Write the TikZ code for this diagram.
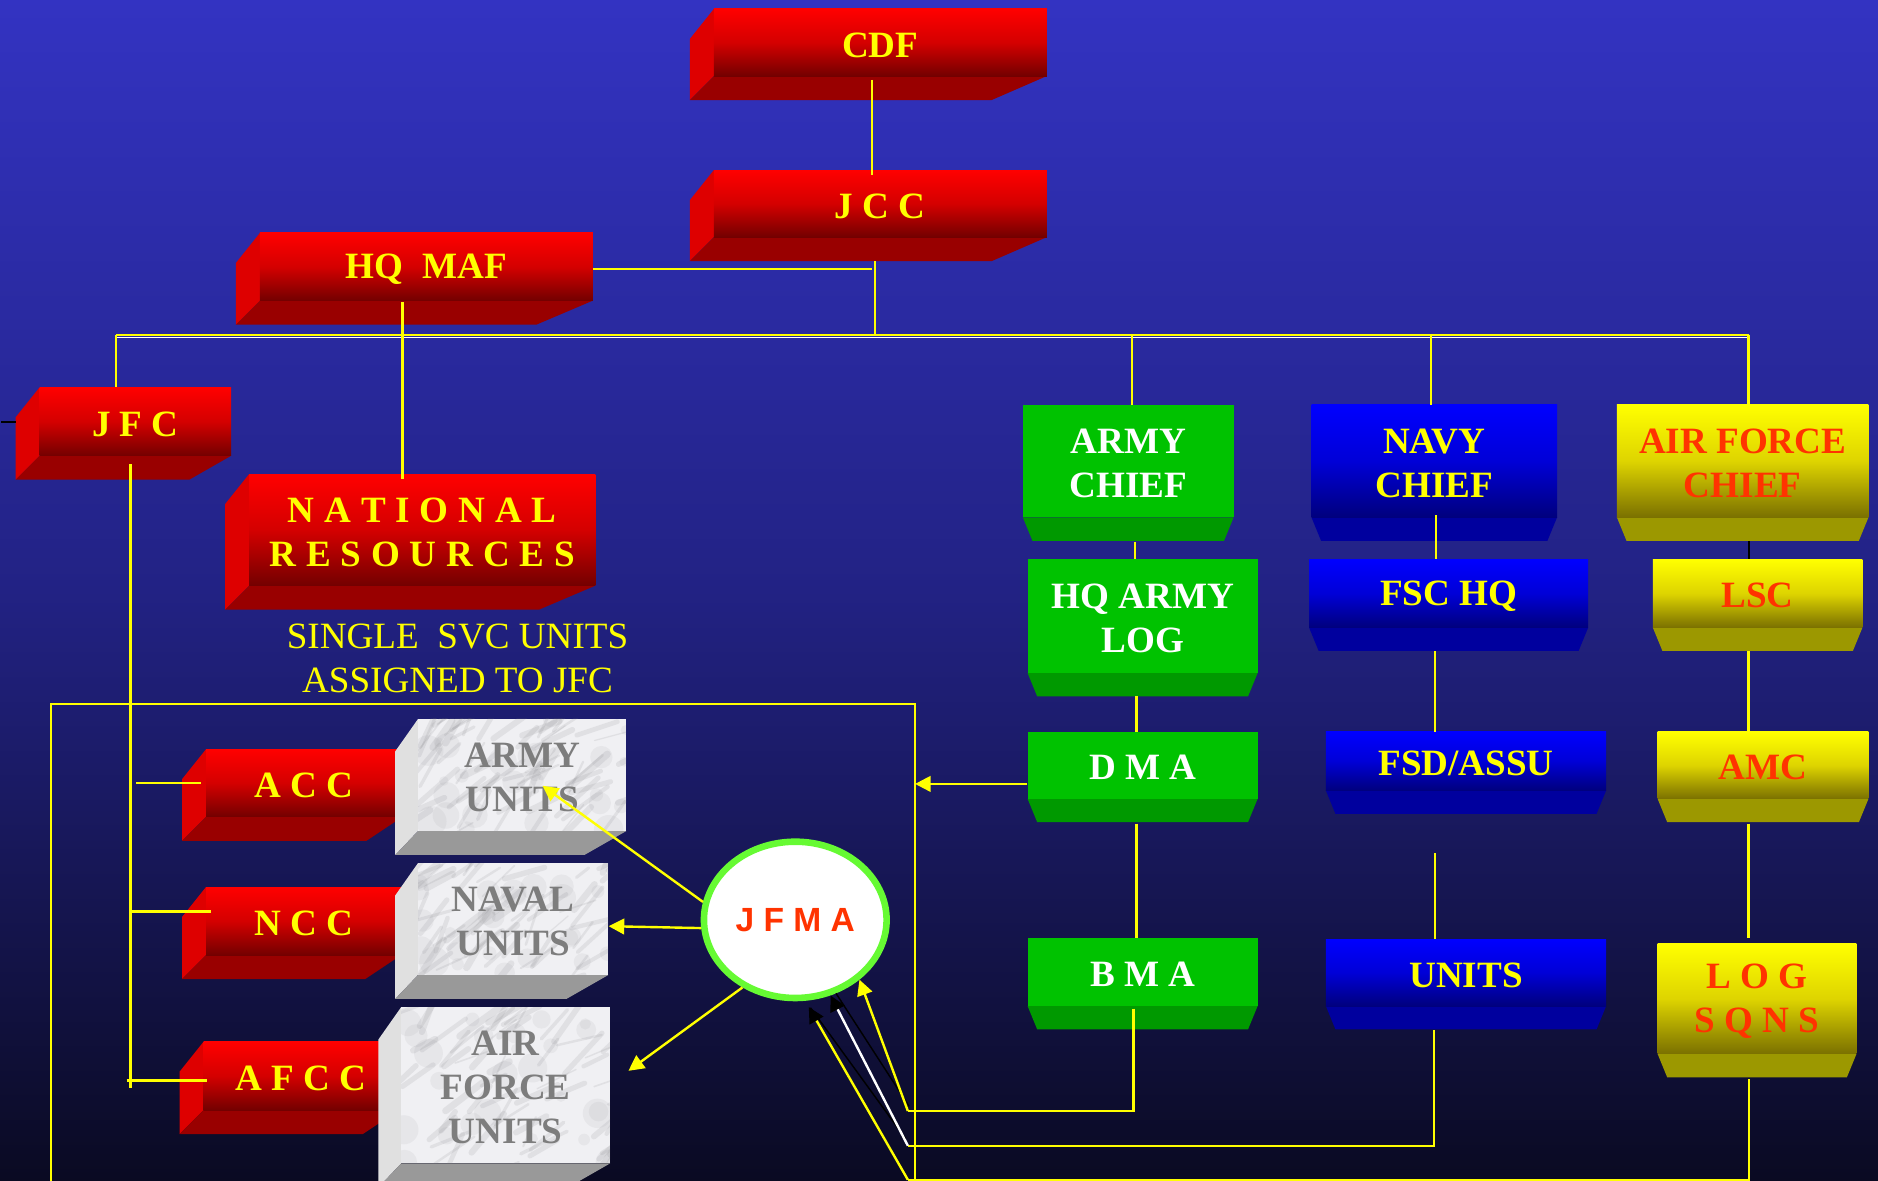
\documentclass[tikz,border=0pt]{standalone}
\usepackage{fontspec}
\setmainfont{Liberation Serif}
\newfontfamily\jfmafont{Liberation Sans}
\usetikzlibrary{shapes.geometric,arrows.meta}
\definecolor{bgtop}{RGB}{51,51,194}
\definecolor{bgmid}{RGB}{34,34,132}
\definecolor{bgbot}{RGB}{10,10,34}
\definecolor{ylw}{RGB}{255,255,0}
\definecolor{rtop}{RGB}{255,0,0}
\definecolor{rmid}{RGB}{212,0,0}
\definecolor{rbot}{RGB}{115,0,0}
\definecolor{rleft}{RGB}{222,0,0}
\definecolor{rbase}{RGB}{153,0,0}
\definecolor{grn}{RGB}{0,194,0}
\definecolor{grnd}{RGB}{0,153,0}
\definecolor{btop}{RGB}{0,0,255}
\definecolor{bmid}{RGB}{0,0,215}
\definecolor{bbotc}{RGB}{0,0,125}
\definecolor{bbase}{RGB}{0,0,158}
\definecolor{ytop}{RGB}{255,255,0}
\definecolor{ymid}{RGB}{222,212,0}
\definecolor{ybotc}{RGB}{122,112,0}
\definecolor{ybase}{RGB}{156,152,0}
\definecolor{orng}{RGB}{255,51,0}
\definecolor{mleft}{RGB}{224,224,224}
\definecolor{mbase}{RGB}{153,153,153}
\definecolor{mface}{RGB}{240,240,243}
\definecolor{mvein}{RGB}{120,120,125}
\definecolor{mtext}{RGB}{125,125,125}
\definecolor{jgreen}{RGB}{102,250,51}
\newcommand\ks{\kern8.2pt}
\tikzset{
 boxfont/.style={font=\fontsize{31}{37}\selectfont\bfseries, align=center, inner sep=0pt, yshift=-2pt},
 redfront/.style={top color=rtop, bottom color=rbot, middle color=rmid},
 redleft/.style={fill=rleft},
 redbot/.style={fill=rbase},
 redtxt/.style={boxfont, text=ylw},
 gfront/.style={fill=grn}, gbot/.style={fill=grnd}, gtxt/.style={boxfont,text=white},
 bfront/.style={top color=btop, bottom color=bbotc, middle color=bmid}, bbot/.style={fill=bbase}, btxt/.style={boxfont,text=ylw},
 yfront/.style={top color=ytop, bottom color=ybotc, middle color=ymid}, ybot/.style={fill=ybase}, ytxt/.style={boxfont,text=orng},
 graytxt/.style={boxfont, text=mtext},
 ln/.style={draw=ylw, line width=2pt},
 thinln/.style={draw=ylw, line width=1.4pt},
 arr/.style={ln, -{Triangle[length=13pt,width=13pt]}},
 darr/.style={-{Triangle[length=13pt,width=13pt,color=black]}},
}
\newcommand\mkred[7]{%
 \fill[redleft] (#2,#3) -- ({#2-20},{#3+25}) -- ({#2-20},{#5+20}) -- (#2,#5) -- cycle;
 \fill[redbot] ({#2-20},{#5+20}) -- (#2,#5) -- (#4,#5) -- ({#4-#6},{#5+20}) -- cycle;
 \path[redfront] (#2,#3) rectangle (#4,#5);
 \pgfmathsetmacro\bw{#4-#2}\pgfmathsetmacro\bh{#5-#3}%
 \node[redtxt, minimum width=\bw pt, minimum height=\bh pt] (#1) at ({(#2+#4)/2},{(#3+#5)/2}) {#7};}
\newcommand\mkgray[6]{%
 \fill[mleft] (#2,#3) -- ({#2-19},{#3+27}) -- ({#2-19},{#5+20}) -- (#2,#5) -- cycle;
 \fill[mbase] ({#2-19},{#5+20}) -- (#2,#5) -- (#4,#5) -- ({#4-35},{#5+20}) -- cycle;
 \fill[mface] (#2,#3) rectangle (#4,#5);
 \begin{scope}
  \clip (#2,#3) rectangle (#4,#5);
  \foreach \k in {1,...,70}{%
   \pgfmathsetmacro\ax{#2-10+rnd*(#4-#2+20)}%
   \pgfmathsetmacro\ay{#3-10+rnd*(#5-#3+20)}%
   \pgfmathsetmacro\bx{\ax+10+rnd*30}%
   \pgfmathsetmacro\by{\ay-8-rnd*26}%
   \pgfmathsetmacro\lw{1+rnd*5}%
   \draw[mvein, opacity=0.13, line width=\lw pt, line cap=round] (\ax,\ay) -- (\bx,\by);
  }
  \foreach \k in {1,...,25}{%
   \pgfmathsetmacro\ax{#2+rnd*(#4-#2)}%
   \pgfmathsetmacro\ay{#3+rnd*(#5-#3)}%
   \pgfmathsetmacro\rr{4+rnd*9}%
   \fill[mvein, opacity=0.08] (\ax,\ay) circle[radius=\rr];
  }
 \end{scope}
 \pgfmathsetmacro\bw{#4-#2}\pgfmathsetmacro\bh{#5-#3}%
 \node[graytxt, minimum width=\bw pt, minimum height=\bh pt] (#1) at ({(#2+#4)/2},{(#3+#5)/2}) {#6};}
\newcommand\mkflat[7]{%
 \fill[#6bot] (#2,#5) -- (#4,#5) -- ({#4-8},{#5+19.5}) -- ({#2+8},{#5+19.5}) -- cycle;
 \path[#6front] (#2,#3) rectangle (#4,#5);
 \pgfmathsetmacro\bw{#4-#2}\pgfmathsetmacro\bh{#5-#3}%
 \node[#6txt, minimum width=\bw pt, minimum height=\bh pt] (#1) at ({(#2+#4)/2},{(#3+#5)/2}) {#7};}
\begin{document}
\begin{tikzpicture}[x=1pt,y=-1pt]
\pgfmathsetseed{11}
\useasboundingbox (0,0) rectangle (1568,986);
\shade[top color=bgtop, bottom color=bgbot, middle color=bgmid] (0,0) rectangle (1568,986);
% frame of single service units
\coordinate (boxR) at (764,587.5);
\draw[thinln] (42.5,990) -- (42.5,587.5) -- (boxR) -- (764,990);
% red blocks
\mkred{cdf}{596}{7.5}{874}{63.5}{46}{CDF}
\mkred{jcc}{596}{142}{874}{198}{46}{J C C}
\mkred{hqmaf}{217}{194.5}{495}{251}{47}{HQ\hspace{0.5em}MAF}
\mkred{jfc}{33}{323.5}{193}{380.5}{35}{J F C}
\mkred{nr}{208}{395.8}{497}{489}{47}{N\ks A\ks T\ks I\ks O\ks N\ks A\ks L\\R\ks E\ks S\ks O\ks U\ks R\ks C\ks E\ks S}
\mkred{acc}{172}{625.5}{336}{682}{30}{A C C}
\mkred{ncc}{172}{740.6}{335}{797.4}{30}{N C C}
\mkred{afcc}{170}{869.7}{333}{926.8}{30}{A F C C}
% marble unit blocks
\mkgray{armyunits}{349}{600.3}{523}{693.8}{ARMY\\UNITS}
\mkgray{navalunits}{349}{720.6}{508}{814}{NAVAL\\UNITS}
\mkgray{afunits}{335}{840.8}{509.5}{971.3}{AIR\\FORCE\\UNITS}
% service blocks
\mkflat{armychief}{854}{338}{1030}{432}{g}{ARMY\\CHIEF}
\mkflat{navychief}{1095}{338}{1300}{432}{b}{NAVY\\CHIEF}
\mkflat{afchief}{1350}{338}{1560}{432}{y}{AIR FORCE\\CHIEF}
\mkflat{hqarmylog}{858}{467}{1050}{562}{g}{HQ ARMY\\LOG}
\mkflat{fschq}{1093}{467}{1326}{524}{b}{FSC HQ}
\mkflat{lsc}{1380}{467}{1555}{524}{y}{LSC}
\mkflat{dma}{858}{611}{1050}{667}{g}{D M A}
\mkflat{fsd}{1107}{611}{1341}{660}{b}{FSD/ASSU}
\mkflat{amc}{1384}{611}{1560}{667}{y}{AMC}
\mkflat{bma}{858}{783}{1050}{840}{g}{B M A}
\mkflat{units}{1107}{784}{1341}{840}{b}{UNITS}
\mkflat{logsqns}{1384}{788}{1550}{880}{y}{L O G\\S Q N S}
% caption
\node[font=\fontsize{31}{37}\selectfont, text=ylw, align=center, inner sep=0pt] (svc) at (382,549.5) {SINGLE\hspace{0.5em}SVC UNITS\\ASSIGNED TO JFC};
% bus and upper connectors
\coordinate (busL) at (97,279.5);
\coordinate (busR) at (1460,279.5);
\coordinate (busJ) at (730.5,279.5);
\coordinate (mafend) at (728,223);
\draw[white, line width=1.2pt] ([shift={(0,2.4)}]busL) -- ([shift={(0,2.4)}]busR);
\draw[ln] (busL) -- (busR);
\draw[ln] ([shift={(-7,1)}]cdf.south) -- ([shift={(-7,2)}]jcc.north);
\draw[ln] ([shift={(-4.5,18)}]jcc.south) -- (busJ);
\draw[ln] (hqmaf.east) -- (hqmaf.east -| mafend);
\draw[ln] ([shift={(-20,-1)}]hqmaf.south) -- ([shift={(-16.5,2)}]nr.north);
\draw[ln] (busL) -- ([shift={(0,-2)}]busL |- jfc.north);
\draw[black, line width=1.5pt] (1,352.5) -- (13,352.5);
% JFC to component commands
\coordinate (jfcend) at (109,908);
\draw[ln] ([shift={(-4,5)}]jfc.south) -- (jfcend);
\draw[ln] ([shift={(-58,-2)}]acc.west) -- ([shift={(-4,-2)}]acc.west);
\draw[ln] ([shift={(-63,-10)}]ncc.west) -- ([shift={(4,-10)}]ncc.west);
\draw[ln] ([shift={(-64,2)}]afcc.west) -- ([shift={(3,2)}]afcc.west);
% service chains
\draw[ln] ([shift={(3,-60.5)}]armychief.north) -- ([shift={(3,-2)}]armychief.north);
\draw[ln] ([shift={(-2.5,-60.5)}]navychief.north) -- ([shift={(-2.5,-2)}]navychief.north);
\draw[ln] (busR) -- ([shift={(0,-2)}]busR |- afchief.north);
\draw[ln] ([shift={(5.5,18)}]armychief.south) -- ([shift={(-6.5,-2)}]hqarmylog.north);
\draw[ln] ([shift={(1.5,-4)}]navychief.south) -- ([shift={(-10.5,-2)}]fschq.north);
\draw[black, line width=1.8pt] ([shift={(5,17.4)}]afchief.south) -- ([shift={(-7.5,-2)}]lsc.north);
\draw[ln] ([shift={(-5,17)}]hqarmylog.south) -- ([shift={(-5,-2)}]dma.north);
\draw[ln] ([shift={(-11.5,17.5)}]fschq.south) -- ([shift={(-26,-2)}]fsd.north);
\draw[ln] ([shift={(-7.5,17.5)}]lsc.south) -- ([shift={(-12,-2)}]amc.north);
\draw[ln] ([shift={(-5,18.5)}]dma.south) -- ([shift={(-5,-2)}]bma.north);
\draw[ln] ([shift={(-26,50)}]fsd.south) -- ([shift={(-26,-2)}]units.north);
\draw[ln] ([shift={(-12,18.5)}]amc.south) -- ([shift={(-7,-7)}]logsqns.north);
% DMA to single service units
\path ([shift={(0,13.5)}]dma.west) coordinate (dmaA);
\draw[arr] (dmaA) -- (dmaA -| boxR);
% returns to JFMA
\coordinate (jA) at (758,927.6);
\coordinate (jB) at (758,956.6);
\coordinate (jC) at (758,985);
\draw[ln] ([shift={(-7.5,0)}]bma.south) |- (jA);
\draw[ln] ([shift={(-26.5,18)}]units.south) |- (jB);
\draw[ln] ([shift={(-6.5,19)}]logsqns.south) |- (jC);
% JFMA
\node[ellipse, draw=jgreen, line width=5.5pt, fill=white, minimum width=152.5pt, minimum height=130.5pt, inner sep=0pt, text=orng, font=\jfmafont\fontsize{28}{30}\selectfont\bfseries] (jfma) at (664,768) {J F M A};
\draw[black, line width=1.2pt] ([shift={(1,-4)}]jA) -- (jfma.-61);
\draw[black, line width=1.2pt] ([shift={(-2,-6)}]jB) -- ([shift={(2,6)}]jfma.-81);
\draw[arr] (jA) -- (jfma.-43);
\draw[white, line width=2pt, darr] (jB) -- (jfma.-65);
\draw[ln, darr, shorten >=6pt] (jC) -- (jfma.-83);
\draw[arr] (jfma.169) -- ([shift={(17,7)}]armyunits.center);
\draw[arr] (jfma.185) -- ([shift={(0,4)}]navalunits.east);
\draw[arr] (jfma.-128) -- ([shift={(15,-14)}]afunits.east);
\end{tikzpicture}
\end{document}
